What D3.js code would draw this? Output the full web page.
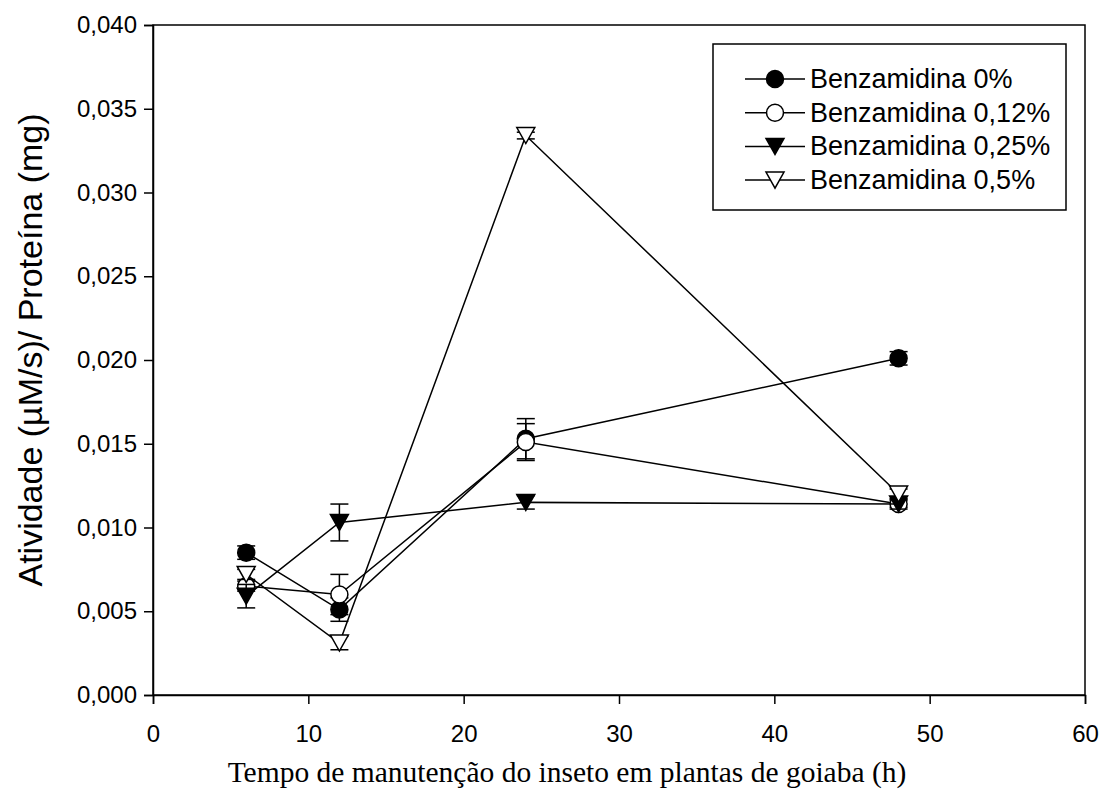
<!DOCTYPE html>
<html>
<head>
<meta charset="utf-8">
<script src="https://cdn.jsdelivr.net/npm/d3@7"></script>
<style>
  body { margin: 0; background: #fff; }
  svg { display: block; }
</style>
</head>
<body>
<div id="chart"></div>
<script>
/* DATA */
const hours = [6, 12, 24, 48];
const seriesNames = ["Benzamidina 0%", "Benzamidina 0,12%", "Benzamidina 0,25%", "Benzamidina 0,5%"];
const benz0 = [0.0085, 0.0051, 0.0153, 0.0201];
const benz0Err = [0.0004, 0.0007, 0.0012, 0.0004];
const benz012 = [0.0065, 0.0060, 0.0151, 0.0114];
const benz012Err = [0.0003, 0.0012, 0.0011, 0.0002];
const benz025 = [0.0059, 0.0103, 0.0115, 0.0114];
const benz025Err = [0.0007, 0.0011, 0.0004, 0.0003];
const benz05 = [0.0072, 0.0031, 0.0334, 0.0120];
const benz05Err = [0.0003, 0.0004, 0.0002, 0.0003];
const xTicks = [0, 10, 20, 30, 40, 50, 60];
const yTicks = [0, 0.005, 0.010, 0.015, 0.020, 0.025, 0.030, 0.035, 0.040];

const width = 1103, height = 805;
const margin = { top: 25, right: 18, bottom: 110, left: 153 };

// marker type per series: shape + filled?
const markers = [
  { shape: "circle", fill: "#000" },
  { shape: "circle", fill: "#fff" },
  { shape: "tri", fill: "#000" },
  { shape: "tri", fill: "#fff" }
];

const series = [
  { name: seriesNames[0], values: benz0, err: benz0Err },
  { name: seriesNames[1], values: benz012, err: benz012Err },
  { name: seriesNames[2], values: benz025, err: benz025Err },
  { name: seriesNames[3], values: benz05, err: benz05Err }
];

const locale = d3.formatLocale({ decimal: ",", thousands: ".", grouping: [3], currency: ["", ""] });
const yFmt = locale.format(".3f");

const svg = d3.select("#chart").append("svg")
  .attr("width", width)
  .attr("height", height);

const xScale = d3.scaleLinear().domain([0, 60]).range([margin.left, width - margin.right]);
const yScale = d3.scaleLinear().domain([0, 0.04]).range([height - margin.bottom, margin.top]);

// frame (top + right)
svg.append("rect")
  .attr("x", xScale(0)).attr("y", yScale(0.04))
  .attr("width", xScale(60) - xScale(0)).attr("height", yScale(0) - yScale(0.04))
  .attr("fill", "none").attr("stroke", "#000").attr("stroke-width", 1.5);

// axes
const xAxis = d3.axisBottom(xScale).tickValues(xTicks).tickSize(9).tickPadding(21).tickFormat(d3.format("d"));
const yAxis = d3.axisLeft(yScale).tickValues(yTicks).tickSize(9).tickPadding(7).tickFormat(yFmt);

const xg = svg.append("g")
  .attr("transform", `translate(0, ${yScale(0)})`)
  .call(xAxis);
const yg = svg.append("g")
  .attr("transform", `translate(${xScale(0)}, 0)`)
  .call(yAxis);

[xg, yg].forEach(g => {
  g.select(".domain").attr("stroke-width", 1.5);
  g.selectAll(".tick line").attr("stroke-width", 1.5);
  g.selectAll("text")
    .attr("font-family", "Liberation Sans, Arial, sans-serif")
    .attr("font-size", 24)
    .attr("fill", "#000");
});

// axis titles
svg.append("text")
  .attr("transform", `translate(30, 350) rotate(-90)`)
  .attr("text-anchor", "middle")
  .attr("dy", "0.35em")
  .attr("font-family", "Liberation Sans, Arial, sans-serif")
  .attr("font-size", 34)
  .text("Atividade (µM/s)/ Proteína (mg)");

svg.append("text")
  .attr("x", 567)
  .attr("y", 782)
  .attr("text-anchor", "middle")
  .attr("font-family", "Liberation Serif, Times New Roman, serif")
  .attr("font-size", 29.5)
  .text("Tempo de manutenção do inseto em plantas de goiaba (h)");

// marker drawing helper
function drawMarker(g, m, cx, cy) {
  if (m.shape === "circle") {
    g.append("circle")
      .attr("cx", cx).attr("cy", cy).attr("r", 8.5)
      .attr("fill", m.fill).attr("stroke", "#000").attr("stroke-width", 1.5);
  } else {
    const w = 9, h = 8;
    g.append("path")
      .attr("d", `M${cx - w},${cy - h}L${cx + w},${cy - h}L${cx},${cy + h}Z`)
      .attr("fill", m.fill).attr("stroke", "#000").attr("stroke-width", 1.5)
      .attr("stroke-linejoin", "miter");
  }
}

const line = d3.line()
  .x((d, i) => xScale(hours[i]))
  .y(d => yScale(d));

series.forEach((s, si) => {
  const g = svg.append("g");
  g.append("path")
    .attr("d", line(s.values))
    .attr("fill", "none").attr("stroke", "#000").attr("stroke-width", 1.5);

  // error bars
  s.values.forEach((v, i) => {
    const cx = xScale(hours[i]);
    const top = yScale(v + s.err[i]), bot = yScale(v - s.err[i]);
    g.append("line").attr("x1", cx).attr("x2", cx).attr("y1", top).attr("y2", bot)
      .attr("stroke", "#000").attr("stroke-width", 1.5);
    [top, bot].forEach(yy => {
      g.append("line").attr("x1", cx - 9).attr("x2", cx + 9).attr("y1", yy).attr("y2", yy)
        .attr("stroke", "#000").attr("stroke-width", 1.5);
    });
  });

  s.values.forEach((v, i) => drawMarker(g, markers[si], xScale(hours[i]), yScale(v)));
});

// legend
const legend = svg.append("g");
legend.append("rect")
  .attr("x", 713).attr("y", 44).attr("width", 353).attr("height", 166)
  .attr("fill", "#fff").attr("stroke", "#000").attr("stroke-width", 1.5);

series.forEach((s, si) => {
  const y = 79 + si * 33.7;
  legend.append("line").attr("x1", 745).attr("x2", 805).attr("y1", y).attr("y2", y)
    .attr("stroke", "#000").attr("stroke-width", 1.5);
  drawMarker(legend, markers[si], 775, y);
  legend.append("text")
    .attr("x", 810).attr("y", y + 9)
    .attr("font-family", "Liberation Sans, Arial, sans-serif")
    .attr("font-size", 27)
    .text(s.name);
});
</script>
</body>
</html>
